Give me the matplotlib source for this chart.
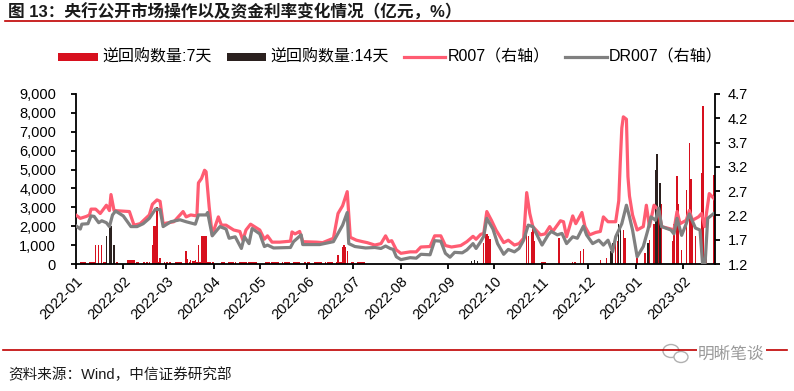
import matplotlib
matplotlib.use("Agg")
import matplotlib.pyplot as plt
import matplotlib.dates as mdates
from matplotlib.lines import Line2D
from matplotlib.patches import Rectangle, Ellipse
from matplotlib.ticker import FuncFormatter
import pandas as pd

plt.rcParams["font.family"] = ["Liberation Sans", "Noto Sans CJK SC"]

# ---- data ----
r007_dates = [
    "2022-01-01", "2022-01-04", "2022-01-08", "2022-01-10", "2022-01-11", "2022-01-14",
    "2022-01-17", "2022-01-21", "2022-01-23", "2022-01-24", "2022-01-26", "2022-02-05",
    "2022-02-08", "2022-02-12", "2022-02-18", "2022-02-20", "2022-02-23", "2022-02-25",
    "2022-02-27", "2022-03-06", "2022-03-12", "2022-03-14", "2022-03-17", "2022-03-21",
    "2022-03-22", "2022-03-24", "2022-03-26", "2022-03-27", "2022-03-29", "2022-03-31",
    "2022-04-04", "2022-04-06", "2022-04-09", "2022-04-14", "2022-04-18", "2022-04-20",
    "2022-04-22", "2022-04-25", "2022-05-01", "2022-05-04", "2022-05-06", "2022-05-09",
    "2022-05-14", "2022-05-21", "2022-05-22", "2022-05-24", "2022-05-27", "2022-05-29",
    "2022-06-07", "2022-06-11", "2022-06-18", "2022-06-21", "2022-06-24", "2022-06-27",
    "2022-06-29", "2022-07-03", "2022-07-07", "2022-07-10", "2022-07-15", "2022-07-19",
    "2022-07-22", "2022-07-24", "2022-07-26", "2022-07-29", "2022-08-01", "2022-08-07",
    "2022-08-11", "2022-08-14", "2022-08-20", "2022-08-23", "2022-08-27", "2022-08-30",
    "2022-09-03", "2022-09-09", "2022-09-13", "2022-09-17", "2022-09-19", "2022-09-22",
    "2022-09-24", "2022-09-26", "2022-09-29", "2022-10-02", "2022-10-07", "2022-10-10",
    "2022-10-14", "2022-10-17", "2022-10-20", "2022-10-22", "2022-10-24", "2022-10-26",
    "2022-10-31", "2022-11-03", "2022-11-06", "2022-11-08", "2022-11-13", "2022-11-15",
    "2022-11-17", "2022-11-21", "2022-11-23", "2022-11-27", "2022-11-29", "2022-12-02",
    "2022-12-06", "2022-12-09", "2022-12-11", "2022-12-14", "2022-12-17", "2022-12-19",
    "2022-12-21", "2022-12-22", "2022-12-23", "2022-12-24", "2022-12-26", "2022-12-27",
    "2022-12-28", "2022-12-30", "2023-01-02", "2023-01-06", "2023-01-08", "2023-01-10",
    "2023-01-13", "2023-01-16", "2023-01-18", "2023-01-24", "2023-01-26", "2023-01-28",
    "2023-01-30", "2023-02-03", "2023-02-05", "2023-02-07", "2023-02-11", "2023-02-13",
    "2023-02-15", "2023-02-18", "2023-02-21",
]
r007_values = [
    2.21, 2.14, 2.18, 2.21, 2.33, 2.33,
    2.24, 2.41, 2.30, 2.63, 2.30, 2.28,
    2.00, 2.03, 2.21, 2.43, 2.52, 2.49,
    2.03, 2.07, 2.28, 2.17, 2.21, 2.19,
    2.87, 2.96, 3.13, 3.10, 2.38, 1.80,
    2.17, 2.00, 2.00, 1.90, 1.87, 1.69,
    1.90, 2.02, 1.90, 1.71, 1.78, 1.65,
    1.65, 1.67, 1.86, 1.82, 1.87, 1.66,
    1.65, 1.64, 1.73, 2.24, 2.40, 2.69,
    1.75, 1.69, 1.66, 1.64, 1.59, 1.62,
    1.78, 1.66, 1.68, 1.49, 1.42, 1.45,
    1.45, 1.55, 1.56, 1.78, 1.78, 1.58,
    1.55, 1.58, 1.66, 1.77, 1.71, 1.81,
    1.83, 2.28, 2.10, 1.90, 1.64, 1.69,
    1.59, 1.62, 1.73, 2.67, 2.24, 1.97,
    1.80, 1.82, 1.97, 1.87, 2.09, 2.07,
    1.76, 2.19, 2.03, 2.26, 1.97, 1.80,
    1.85, 1.87, 2.17, 2.07, 2.07, 2.07,
    2.50, 3.30, 4.00, 4.23, 4.18, 3.00,
    2.60, 2.21, 1.90, 1.97, 2.41, 1.97,
    2.41, 2.31, 1.97, 1.92, 1.90, 2.28,
    2.03, 2.10, 2.30, 2.10, 2.17, 2.24,
    1.97, 2.65, 2.55,
]

dr007_dates = [
    "2022-01-01", "2022-01-04", "2022-01-05", "2022-01-09", "2022-01-11", "2022-01-13",
    "2022-01-16", "2022-01-18", "2022-01-21", "2022-01-23", "2022-01-25", "2022-01-27",
    "2022-02-01", "2022-02-06", "2022-02-10", "2022-02-14", "2022-02-18", "2022-02-22",
    "2022-02-25", "2022-02-27", "2022-03-04", "2022-03-10", "2022-03-14", "2022-03-20",
    "2022-03-22", "2022-03-27", "2022-03-28", "2022-03-31", "2022-04-05", "2022-04-09",
    "2022-04-11", "2022-04-15", "2022-04-19", "2022-04-21", "2022-04-24", "2022-04-26",
    "2022-05-01", "2022-05-04", "2022-05-06", "2022-05-10", "2022-05-21", "2022-05-23",
    "2022-05-28", "2022-05-29", "2022-06-09", "2022-06-18", "2022-06-21", "2022-06-24",
    "2022-06-27", "2022-06-28", "2022-07-02", "2022-07-09", "2022-07-15", "2022-07-19",
    "2022-07-22", "2022-07-25", "2022-07-27", "2022-07-29", "2022-08-01", "2022-08-07",
    "2022-08-11", "2022-08-14", "2022-08-20", "2022-08-23", "2022-08-27", "2022-08-30",
    "2022-09-02", "2022-09-05", "2022-09-10", "2022-09-13", "2022-09-17", "2022-09-19",
    "2022-09-22", "2022-09-24", "2022-09-26", "2022-09-30", "2022-10-03", "2022-10-07",
    "2022-10-10", "2022-10-14", "2022-10-17", "2022-10-20", "2022-10-23", "2022-10-26",
    "2022-11-01", "2022-11-05", "2022-11-07", "2022-11-11", "2022-11-14", "2022-11-17",
    "2022-11-21", "2022-11-24", "2022-11-28", "2022-11-30", "2022-12-04", "2022-12-08",
    "2022-12-11", "2022-12-14", "2022-12-17", "2022-12-19", "2022-12-23", "2022-12-26",
    "2022-12-28", "2022-12-30", "2023-01-02", "2023-01-06", "2023-01-09", "2023-01-11",
    "2023-01-14", "2023-01-16", "2023-01-18", "2023-01-24", "2023-01-26", "2023-01-28",
    "2023-01-31", "2023-02-03", "2023-02-05", "2023-02-09", "2023-02-12", "2023-02-14",
    "2023-02-15", "2023-02-17", "2023-02-21",
]
dr007_values = [
    1.99, 1.92, 2.02, 2.03, 2.19, 2.18,
    2.05, 2.09, 2.05, 1.97, 2.21, 2.29,
    2.19, 1.97, 1.97, 2.03, 2.14, 2.33,
    2.32, 1.97, 2.07, 2.11, 2.07, 2.02,
    2.21, 2.21, 2.26, 1.78, 1.97, 1.92,
    1.73, 1.76, 1.52, 1.76, 1.62, 1.93,
    1.82, 1.56, 1.59, 1.53, 1.54, 1.66,
    1.80, 1.60, 1.60, 1.66, 1.83, 2.00,
    2.26, 1.62, 1.56, 1.53, 1.54, 1.52,
    1.57, 1.52, 1.50, 1.35, 1.29, 1.33,
    1.32, 1.40, 1.39, 1.68, 1.67, 1.42,
    1.34, 1.44, 1.43, 1.49, 1.62, 1.52,
    1.66, 1.77, 2.14, 1.92, 1.62, 1.40,
    1.50, 1.45, 1.52, 1.69, 2.00, 1.97,
    1.59, 1.80, 1.87, 1.80, 1.83, 1.62,
    1.76, 1.73, 1.98, 1.80, 1.62, 1.69,
    1.59, 1.69, 1.45, 1.76, 2.03, 2.41,
    2.17, 1.90, 1.35, 1.56, 1.90, 2.17,
    2.10, 2.35, 1.97, 1.90, 1.82, 2.14,
    1.79, 2.03, 2.23, 1.94, 1.90, 1.05,
    1.05, 2.14, 2.24,
]

# 7-day reverse repo, larger operations (亿元)
rr7_dates = [
    "2022-01-14", "2022-01-16", "2022-01-18",
    "2022-02-04", "2022-02-05", "2022-02-06", "2022-02-07", "2022-02-08",
    "2022-02-20", "2022-02-21", "2022-02-22", "2022-02-23", "2022-02-25",
    "2022-03-14", "2022-03-15", "2022-03-17", "2022-03-18", "2022-03-19", "2022-03-20",
    "2022-03-22", "2022-03-24", "2022-03-25", "2022-03-26", "2022-03-27",
    "2022-06-21", "2022-06-24", "2022-06-25", "2022-06-26", "2022-06-27",
    "2022-09-24", "2022-09-25", "2022-09-26", "2022-09-27", "2022-09-28",
    "2022-10-22", "2022-10-23", "2022-10-25", "2022-10-26", "2022-10-27",
    "2022-11-12", "2022-11-26", "2022-11-28",
    "2022-12-09", "2022-12-13", "2022-12-19", "2022-12-20", "2022-12-24", "2022-12-25",
    "2023-01-02", "2023-01-07", "2023-01-10", "2023-01-13", "2023-01-16", "2023-01-18",
    "2023-01-25", "2023-01-26", "2023-01-28", "2023-01-29", "2023-01-31",
    "2023-02-03", "2023-02-05", "2023-02-06", "2023-02-07", "2023-02-09",
    "2023-02-13", "2023-02-14", "2023-02-16", "2023-02-21",
]
rr7_values = [
    1000, 1000, 1000,
    200, 200, 200, 200, 200,
    1000, 2000, 2000, 3000, 300,
    700, 250, 200, 150, 150, 200,
    1000, 1500, 1500, 1500, 1500,
    500, 900, 1000, 900, 700,
    1100, 1600, 1600, 1500, 1300,
    2000, 1500, 1700, 1900, 1200,
    1400, 700, 800,
    200, 300, 1500, 1200, 1800, 1400,
    400, 600, 1270, 2100, 3000, 3200,
    1200, 2100, 4650, 3200, 740,
    3900, 6400, 4480, 2200, 1500,
    4800, 8350, 1450, 4700,
]

# 7-day reverse repo, routine 100亿 days
rr7_small_dates = """
2022-01-04 2022-01-05 2022-01-06 2022-01-07 2022-01-10 2022-01-11 2022-01-12 2022-01-13
2022-01-19 2022-01-20 2022-01-28 2022-02-10 2022-02-11 2022-02-14 2022-02-15 2022-02-16
2022-02-17 2022-02-18 2022-02-24 2022-02-28 2022-03-01 2022-03-02 2022-03-03 2022-03-04
2022-03-07 2022-03-08 2022-03-09 2022-03-10 2022-03-11 2022-03-16 2022-03-21 2022-03-23
2022-03-28 2022-03-29 2022-03-30 2022-03-31 2022-04-01 2022-04-06 2022-04-07 2022-04-08
2022-04-11 2022-04-12 2022-04-13 2022-04-14 2022-04-15 2022-04-18 2022-04-19 2022-04-20
2022-04-21 2022-04-22 2022-04-24 2022-04-25 2022-04-26 2022-04-27 2022-04-28 2022-04-29
2022-05-05 2022-05-06 2022-05-07 2022-05-09 2022-05-10 2022-05-11 2022-05-12 2022-05-13
2022-05-16 2022-05-17 2022-05-18 2022-05-19 2022-05-20 2022-05-23 2022-05-24 2022-05-25
2022-05-26 2022-05-27 2022-05-30 2022-05-31 2022-06-01 2022-06-02 2022-06-06 2022-06-07
2022-06-08 2022-06-09 2022-06-10 2022-06-13 2022-06-14 2022-06-15 2022-06-16 2022-06-17
2022-06-20 2022-06-22 2022-06-23 2022-06-30 2022-07-01 2022-07-04 2022-07-05 2022-07-06
2022-07-07 2022-07-08 2022-11-01 2022-11-02 2022-11-03 2022-11-21 2022-11-22 2022-11-23
""".split()
rr7_small_value = 100

# 14-day reverse repo (亿元)
rr14_dates = [
    "2022-01-21", "2022-01-23", "2022-01-24", "2022-01-26",
    "2022-09-16", "2022-09-18", "2022-09-20",
    "2022-12-16", "2022-12-17", "2022-12-21", "2022-12-22",
    "2023-01-09", "2023-01-14", "2023-01-15", "2023-01-17",
]
rr14_values = [
    1500, 2000, 2000, 1000,
    150, 200, 150,
    700, 1100, 2100, 2100,
    1100, 5000, 5800, 4300,
]

left_ticks = [0, 1000, 2000, 3000, 4000, 5000, 6000, 7000, 8000, 9000]
right_ticks = [1.2, 1.7, 2.2, 2.7, 3.2, 3.7, 4.2, 4.7]

RED = "#D7101E"
DARK = "#2B211F"
PINK = "#FF5C72"
GREY = "#808080"
LINE_RED = "#C00000"

W, H = 794, 391
fig = plt.figure(figsize=(W / 100, H / 100), dpi=100)
ax = fig.add_axes([75.7 / W, 1 - 264 / H, (715 - 75.7) / W, (264 - 94) / H])
ax2 = ax.twinx()

bar_w = 0.9
ax.bar(pd.to_datetime(rr7_small_dates), [rr7_small_value] * len(rr7_small_dates),
       width=bar_w, color=RED, linewidth=0)
ax.bar(pd.to_datetime(rr7_dates), rr7_values, width=bar_w, color=RED, linewidth=0)
ax.bar(pd.to_datetime(rr14_dates), rr14_values, width=bar_w, color=DARK, linewidth=0)

ax2.plot(pd.to_datetime(r007_dates), r007_values, color=PINK, linewidth=2.3,
         solid_joinstyle="round")
ax2.plot(pd.to_datetime(dr007_dates), dr007_values, color=GREY, linewidth=2.3,
         solid_joinstyle="round")

ax.set_xlim(pd.Timestamp("2022-01-01"), pd.Timestamp("2023-02-21 18:00"))
ax.set_ylim(0, 9000)
ax2.set_ylim(1.2, 4.7)
ax.set_yticks(left_ticks)
ax2.set_yticks(right_ticks)
ax.yaxis.set_major_formatter(FuncFormatter(lambda v, _: f"{int(v):,}"))
ax2.yaxis.set_major_formatter(FuncFormatter(lambda v, _: f"{v:.1f}"))

ax.xaxis.set_major_locator(mdates.MonthLocator())
ax.xaxis.set_major_formatter(mdates.DateFormatter("%Y-%m"))
for lab in ax.get_xticklabels():
    lab.set_rotation(45)
    lab.set_ha("right")
    lab.set_rotation_mode("anchor")

for a in (ax, ax2):
    a.spines["top"].set_visible(False)
    for side in ("left", "right", "bottom"):
        a.spines[side].set_linewidth(1.3)
        a.spines[side].set_color("black")
    a.tick_params(direction="out", length=3.6, width=1.3, labelsize=10.5, colors="black")
ax.spines["right"].set_visible(False)
ax2.spines["left"].set_visible(False)
ax2.spines["bottom"].set_visible(False)
ax.tick_params(axis="x", pad=4)
ax.tick_params(axis="y", pad=10.5)
ax2.tick_params(axis="y", pad=5.5)

# header / footer
fig.text(8 / W, 1 - 12 / H, "图 13：央行公开市场操作以及资金利率变化情况（亿元，%）",
         fontsize=12, fontweight="bold", color="#1a1a1a", va="center", ha="left")
fig.add_artist(Line2D([5 / W, 1], [1 - 20.5 / H] * 2, color=LINE_RED, linewidth=1.2))
fig.add_artist(Line2D([3 / W, 787 / W], [1 - 350 / H] * 2, color=LINE_RED, linewidth=1.2))
fig.text(8 / W, 1 - 375 / H, "资料来源：Wind，中信证券研究部", fontsize=10.5,
         color="#1a1a1a", va="center", ha="left")

# watermark
fig.add_artist(Ellipse((671 / W, 1 - 351 / H), 16 / W, 13 / H, fill=False,
                       edgecolor="#b0b0b0", linewidth=1.0))
fig.add_artist(Ellipse((681 / W, 1 - 357 / H), 14 / W, 11 / H, facecolor="white",
                       edgecolor="#b0b0b0", linewidth=1.0))
fig.text(698 / W, 1 - 354 / H, "明晰笔谈", fontsize=12, color="#9a9a9a",
         va="center", ha="left",
         bbox=dict(facecolor="white", edgecolor="none", pad=1.0))

# legend row
ly = 1 - 57 / H
fig.add_artist(Rectangle((58 / W, 1 - 61 / H), 40 / W, 8.5 / H, color=RED, linewidth=0))
fig.text(102 / W, ly, "逆回购数量:7天", fontsize=11.5, va="center", ha="left")
fig.add_artist(Rectangle((227 / W, 1 - 61 / H), 39 / W, 8.5 / H, color=DARK, linewidth=0))
fig.text(270 / W, ly, "逆回购数量:14天", fontsize=11.5, va="center", ha="left")
fig.add_artist(Line2D([404 / W, 445 / W], [ly, ly], color=PINK, linewidth=2.3))
fig.text(448 / W, ly, "R007（右轴）", fontsize=11.5, va="center", ha="left")
fig.add_artist(Line2D([565 / W, 607 / W], [ly, ly], color=GREY, linewidth=2.3))
fig.text(609 / W, ly, "DR007（右轴）", fontsize=11.5, va="center", ha="left")

fig.savefig("out.png", dpi=100)
plt.close(fig)
